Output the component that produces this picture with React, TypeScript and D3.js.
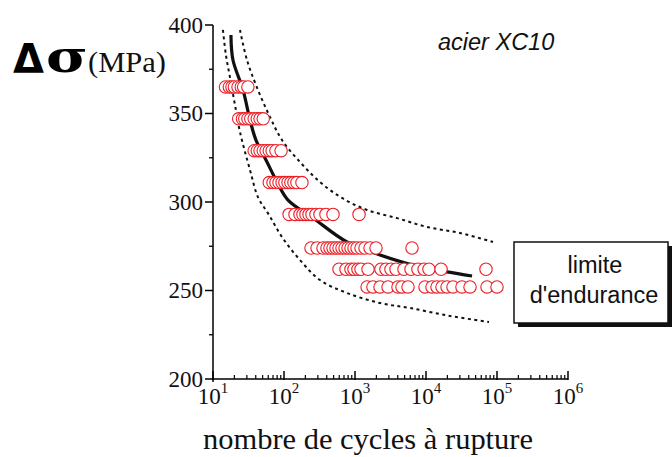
import React from "react";
import * as d3 from "d3";

// Stress levels (MPa) and cycles to failure
const stressLevels = [365, 347, 329, 311, 293, 274, 262, 252];
const cyclesAt365 = [15, 17, 18.5, 20, 22.5, 25, 27, 31];
const cyclesAt347 = [23, 26, 28, 31, 34, 38, 42, 46, 51];
const cyclesAt329 = [38, 42, 46, 51, 56, 62, 68, 77, 91];
const cyclesAt311 = [62, 70, 77, 85, 94, 103, 114, 125, 138, 152, 179];
const cyclesAt293 = [118, 143, 168, 185, 204, 225, 248, 282, 321, 390, 490, 1140];
const cyclesAt274 = [240, 292, 354, 403, 444, 490, 540, 595, 656, 723, 797, 878, 968, 1067, 1215, 1383, 1627, 1976, 6350];
const cyclesAt262 = [595, 747, 878, 968, 1100, 1215, 1525, 2320, 2730, 3210, 3780, 4900, 6150, 7700, 9400, 11000, 16300, 70000];
const cyclesAt252 = [1480, 1790, 2250, 2920, 4030, 4590, 5580, 9680, 12150, 14300, 16800, 19800, 24000, 32100, 41700, 72300, 100000];
const cyclesByLevel = [cyclesAt365, cyclesAt347, cyclesAt329, cyclesAt311, cyclesAt293, cyclesAt274, cyclesAt262, cyclesAt252];

// Mean fatigue curve and dispersion bounds, [cycles, MPa]
const meanCurve: [number, number][] = [
  [17.9, 394.4], [19.1, 380.2], [26.5, 363.3], [33.2, 346.3], [40.3, 335.0], [57.6, 322.6],
  [79.7, 311.3], [114, 301.1], [256, 291.0], [771, 277.4], [2250, 270.1], [6560, 264.4],
  [19800, 260.5], [44500, 258.2],
];
const upperCurve: [number, number][] = [
  [24.0, 397.2], [30.1, 380.2], [43.0, 363.3], [63.5, 348.0], [93.7, 335.0], [168, 322.6],
  [321, 311.3], [656, 302.3], [1476, 295.5], [3905, 290.9], [10330, 285.9], [30100, 282.5],
  [87800, 277.4],
];
const lowerCurve: [number, number][] = [
  [13.8, 397.2], [15.2, 383.1], [17.4, 370.1], [20.4, 354.8], [24.0, 339.5], [33.2, 318.1],
  [43.0, 302.8], [61.5, 292.7], [93.7, 280.2], [168, 267.2], [321, 255.9], [771, 248.6],
  [2250, 242.9], [5950, 240.1], [21800, 235.6], [77200, 232.2],
];

const yTicks = [200, 250, 300, 350, 400];
const yMinorTicks = [225, 275, 325, 375];
const xDecades = [1, 2, 3, 4, 5, 6];

const W = 672;
const H = 457;

export default function App() {
  const x = d3.scaleLog().domain([10, 1e6]).range([213, 568]);
  const y = d3.scaleLinear().domain([200, 400]).range([379, 25]);

  const line = d3
    .line<[number, number]>()
    .x((d) => x(d[0]))
    .y((d) => y(d[1]))
    .curve(d3.curveCatmullRom);

  const xMinor: number[] = [];
  for (let k = 1; k < 6; k++) {
    for (let m = 2; m <= 9; m++) xMinor.push(m * Math.pow(10, k));
  }

  const serif = "'Liberation Serif', 'Times New Roman', serif";
  const sans = "'Liberation Sans', Arial, sans-serif";

  return (
    <svg
      width={W}
      height={H}
      style={{ position: "absolute", left: 0, top: 0, background: "#fff" }}
    >
      <rect x={0} y={0} width={W} height={H} fill="#fff" />

      {/* curves */}
      <path d={line(upperCurve) || ""} fill="none" stroke="#111" strokeWidth={2} strokeDasharray="3,3.5" />
      <path d={line(lowerCurve) || ""} fill="none" stroke="#111" strokeWidth={2} strokeDasharray="3,3.5" />
      <path d={line(meanCurve) || ""} fill="none" stroke="#111" strokeWidth={3.2} />

      {/* points */}
      {stressLevels.map((s, i) =>
        cyclesByLevel[i].map((n, j) => (
          <circle
            key={`${i}-${j}`}
            cx={x(n)}
            cy={y(s)}
            r={6.2}
            fill="#fff"
            stroke="#ec1c24"
            strokeWidth={1.1}
          />
        ))
      )}

      {/* axes */}
      <line x1={213} y1={y(400)} x2={213} y2={382} stroke="#000" strokeWidth={1.5} />
      <line x1={212} y1={379} x2={x(1e6)} y2={379} stroke="#000" strokeWidth={1.5} />
      {yTicks.map((t) => (
        <g key={t}>
          <line x1={205} x2={213} y1={y(t)} y2={y(t)} stroke="#000" strokeWidth={1.5} />
          <text
            x={203}
            y={y(t)}
            dy="0.33em"
            textAnchor="end"
            fontFamily={serif}
            fontSize={23}
            fill="#111"
          >
            {t}
          </text>
        </g>
      ))}
      {yMinorTicks.map((t) => (
        <line key={t} x1={209} x2={213} y1={y(t)} y2={y(t)} stroke="#000" strokeWidth={1.3} />
      ))}
      {xDecades.map((k) => (
        <g key={k}>
          <line x1={x(Math.pow(10, k))} x2={x(Math.pow(10, k))} y1={371} y2={380} stroke="#000" strokeWidth={1.5} />
          <text
            x={x(Math.pow(10, k))}
            y={404}
            textAnchor="middle"
            fontFamily={serif}
            fontSize={23}
            fill="#111"
          >
            10
            <tspan dy={-11} fontSize={15}>
              {k}
            </tspan>
          </text>
        </g>
      ))}
      {xMinor.map((v) => (
        <line key={v} x1={x(v)} x2={x(v)} y1={375} y2={379} stroke="#000" strokeWidth={1.2} />
      ))}

      {/* axis titles */}
      <text x={203} y={449} fontFamily={serif} fontSize={29} fill="#111" textLength={330} lengthAdjust="spacingAndGlyphs">
        nombre de cycles à rupture
      </text>
      <text x={13} y={73} fontFamily="'DejaVu Sans', sans-serif" fontWeight="bold" fontSize={40} fill="#000">
        Δ
      </text>
      <text
        x={46}
        y={72}
        fontFamily="'DejaVu Serif', serif"
        fontWeight="bold"
        fontSize={44}
        fill="#000"
        textLength={42}
        lengthAdjust="spacingAndGlyphs"
      >
        σ
      </text>
      <text x={88} y={72} fontFamily={serif} fontSize={30} fill="#111" textLength={78} lengthAdjust="spacingAndGlyphs">
        (MPa)
      </text>

      {/* annotation */}
      <text x={438} y={50} fontFamily={sans} fontStyle="italic" fontSize={23.5} fill="#111">
        acier XC10
      </text>

      {/* legend box */}
      <rect x={518} y={246} width={154} height={81} fill="#111" />
      <rect x={514} y={242} width={154} height={81} fill="#fff" stroke="#111" strokeWidth={1.5} />
      <text x={595} y={273} textAnchor="middle" fontFamily={sans} fontSize={23.5} fill="#111">
        limite
      </text>
      <text x={594} y={303} textAnchor="middle" fontFamily={sans} fontSize={23.5} fill="#111">
        d'endurance
      </text>
    </svg>
  );
}
